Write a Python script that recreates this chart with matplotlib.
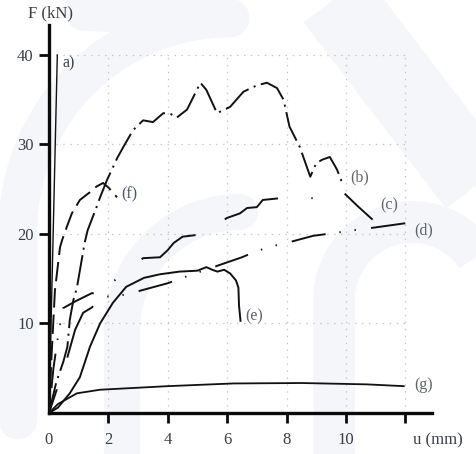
import numpy as np
import matplotlib.pyplot as plt

plt.rcParams['font.family'] = ['Liberation Serif', 'DejaVu Serif']
plt.rcParams['lines.scale_dashes'] = False

# curve data: u (mm), F (kN)
u_a = [0, 0.28]
F_a = [0, 40]

u_b = [0, 0.25, 0.48, 0.62, 0.7, 0.82, 0.94, 1.2, 1.3, 1.6, 1.72, 1.95, 2.3, 2.5, 2.83,
       3.17, 3.5, 3.85, 4.1, 4.3, 4.65, 5.1, 5.3, 5.66, 6.1, 6.55, 7.0, 7.34, 7.68,
       7.9, 8.1, 8.45, 8.8, 9.0, 9.2, 9.46, 9.7, 9.9]
F_b = [0, 3.5, 5.7, 7.4, 10.4, 12.6, 14, 19, 20.4, 23, 24.1, 26, 28.5, 29.7, 31.6,
       32.7, 32.5, 33.5, 33.4, 33, 33.9, 36.9, 36.1, 33.5, 34.2, 35.9, 36.6, 36.9, 36.3,
       35, 32, 29.7, 26.4, 27.9, 28.3, 28.6, 27.2, 25.5]

u_c = [0, 0.3, 0.6, 0.88, 1.15, 1.45, 1.9, 2.33, 2.8, 3.17, 3.74, 4.0, 4.2, 4.5,
       5.0, 5.5, 6.0, 6.43, 6.67, 7.0, 7.2, 7.78, 8.3, 8.9, 9.4, 9.9, 10.4, 10.9]
F_c = [0, 3, 6, 9.3, 11.2, 11.8, 13.8, 15.2, 16.4, 17.3, 17.4, 18.2, 19.0, 19.7,
       19.9, 20.8, 21.8, 22.3, 22.9, 23.0, 23.8, 24.0, 24.0, 24.0, 24.3, 24.7, 23.1, 21.6]

u_d = [0, 0.15, 0.3, 0.47, 0.9, 1.45, 1.95, 2.5, 3.0, 4.0, 4.5, 5.1, 6.5, 7.0, 7.6,
       8.0, 8.9, 9.6, 10.2, 10.7, 12.0]
F_d = [0, 5, 8.5, 11.7, 12.5, 13.4, 13.0, 13.2, 13.6, 14.5, 15.1, 15.8, 17.4, 18.1, 18.7,
       19.0, 19.8, 20.1, 20.4, 20.6, 21.2]

u_e = [0, 0.3, 0.7, 1.04, 1.38, 1.72, 2.15, 2.6, 3.2, 3.74, 4.4, 5.0, 5.3, 5.5,
       5.67, 5.9, 6.1, 6.3, 6.38, 6.4, 6.45]
F_e = [0, 0.6, 2.2, 4.0, 7.4, 10.0, 12.3, 14.1, 15.1, 15.5, 15.8, 15.9, 16.3, 16.0,
       15.8, 16.0, 15.6, 14.8, 14.0, 12.0, 10.3]

u_f = [0, 0.08, 0.2, 0.37, 0.44, 0.6, 0.77, 1.04, 1.39, 1.6, 1.82, 2.0, 2.29]
F_f = [0, 6, 13.7, 18.5, 19.3, 20.8, 22.3, 23.8, 24.7, 25.3, 25.7, 25.2, 24.1]

u_g = [0, 0.3, 0.94, 1.72, 4.0, 6.2, 8.5, 10.7, 11.95]
F_g = [0, 1.0, 2.2, 2.6, 3.0, 3.3, 3.35, 3.2, 3.0]

labels = ['a)', '(b)', '(c)', '(d)', '(e)', '(f)', '(g)']
label_u = [0.45, 10.15, 11.15, 12.3, 6.6, 2.45, 12.3]
label_F = [39.1, 26.3, 23.2, 20.4, 10.8, 24.4, 3.1]

xticks = [0, 2, 4, 6, 8, 10, 12]
xticklabels = ['0', '2', '4', '6', '8', '10', '']
yticks = [10, 20, 30, 40]

fig = plt.figure(figsize=(4.77, 4.54), dpi=100)

# faint watermark bands behind the plot (pixel coords)
bg = fig.add_axes([0, 0, 1, 1], zorder=0)
bg.set_xlim(0, 477)
bg.set_ylim(454, 0)
bg.axis('off')
wm = '#f5f6f9'
t = np.linspace(np.pi, 0, 60)
arch = np.vstack([[334, 470], [334, 300],
                  np.column_stack([412 + 78 * np.cos(t), 300 - 78 * np.sin(t)]),
                  [490, 300], [490, 470]])
bg.plot(arch[:, 0], arch[:, 1], color=wm, lw=30, solid_capstyle='butt')
bg.plot([320, 500], [-20, 215], color=wm, lw=56, solid_capstyle='butt')
t2 = np.linspace(np.pi, np.pi / 2, 40)
arch2 = np.vstack([[18, 420],
                   np.column_stack([230 + 212 * np.cos(t2), 230 - 212 * np.sin(t2)])])
bg.plot(arch2[:, 0], arch2[:, 1], color=wm, lw=28, solid_capstyle='round')
t3 = np.linspace(np.pi, np.pi / 2, 30)
arch3 = np.vstack([[122, 470], [122, 330],
                   np.column_stack([240 + 118 * np.cos(t3), 330 - 118 * np.sin(t3)])])
bg.plot(arch3[:, 0], arch3[:, 1], color=wm, lw=26, solid_capstyle='round')
bg.plot([85, 212], [10, 16], color=wm, lw=30, solid_capstyle='round')

ax = fig.add_axes([49 / 477, 41 / 454, 383 / 477, 388 / 454], zorder=1)
ax.patch.set_alpha(0)
ax.set_xlim(0, 12.9)
ax.set_ylim(0, 43.35)

# dotted grid, only inside the tick range
for xv in xticks[1:]:
    ax.plot([xv, xv], [0, 40], color='#c4c4c4', lw=0.9, ls=(0, (1, 4)), zorder=1)
for yv in yticks:
    ax.plot([0, 12], [yv, yv], color='#c4c4c4', lw=0.9, ls=(0, (1, 4)), zorder=1)

k = '#111111'
ax.plot(u_a, F_a, color=k, lw=1.0, zorder=3)
ax.plot(u_b, F_b, color=k, lw=1.4, ls=(0, (22, 4, 1.5, 4)), zorder=3)
ax.plot(u_c, F_c, color=k, lw=1.4, ls=(27, (45, 24, 43, 24, 1, 24)), zorder=3)
ax.plot(u_d, F_d, color=k, lw=1.4, ls=(40, (25, 10, 1, 10, 1, 11)), zorder=3)
ax.plot(u_e, F_e, color=k, lw=1.4, zorder=3)
ax.plot(u_f, F_f, color=k, lw=1.4, ls=(0, (14, 5)), zorder=3)
ax.plot(u_g, F_g, color=k, lw=1.3, zorder=3)

for lab, xu, yf in zip(labels, label_u, label_F):
    col = '#4a5670' if lab == '(f)' else '#5f636c'
    if lab == 'a)':
        col = '#3a3f48'
    ax.text(xu, yf, lab, fontsize=11.5, color=col, ha='left', va='center', clip_on=False)

for s in ['top', 'right']:
    ax.spines[s].set_visible(False)
for s in ['left', 'bottom']:
    ax.spines[s].set_linewidth(2.4)
    ax.spines[s].set_color('#0a0a0a')

ax.set_xticks(xticks)
ax.set_xticklabels(xticklabels)
ax.set_yticks(yticks)
ax.tick_params(axis='both', direction='out', length=7, width=2, color='#0a0a0a',
               labelsize=12, labelcolor='#3a3f48')
ax.tick_params(axis='x', pad=7)
ax.tick_params(axis='y', pad=4)
ax.xaxis.get_major_ticks()[0].tick1line.set_visible(False)

ax.text(12.25, -3.1, 'u (mm)', fontsize=12, color='#3a3f48', ha='left', va='center',
        clip_on=False)
ax.text(0.05, 44.6, 'F (kN)', fontsize=12, color='#3a3f48', ha='center', va='center',
        clip_on=False)

fig.savefig('out.png', dpi=100)
